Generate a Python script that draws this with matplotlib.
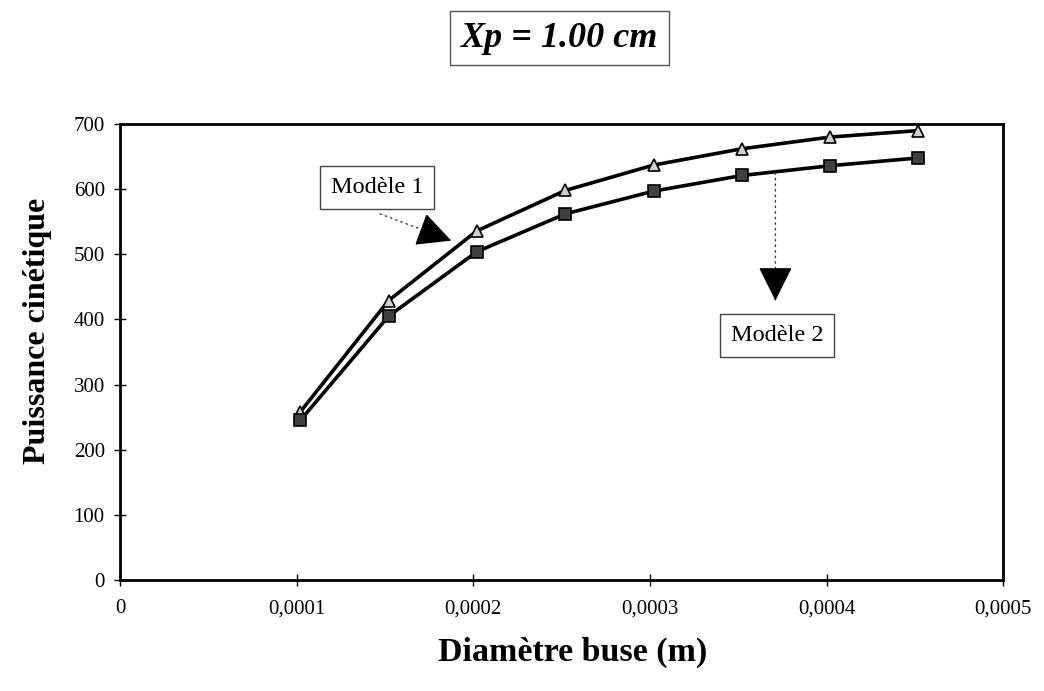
import matplotlib
matplotlib.use("Agg")
import matplotlib.pyplot as plt
from matplotlib.ticker import FuncFormatter

# Nozzle diameter (m) and kinetic power for both models
diametre = [0.000102, 0.000152, 0.000202, 0.000252, 0.000302, 0.000352, 0.000402, 0.000452]
modele_1 = [258, 429, 536, 598, 637, 662, 680, 690]
modele_2 = [245, 405, 504, 562, 597, 621, 636, 648]

x_ticks = [0, 0.0001, 0.0002, 0.0003, 0.0004, 0.0005]
y_ticks = [0, 100, 200, 300, 400, 500, 600, 700]

plt.rcParams['font.family'] = ['Liberation Serif', 'DejaVu Serif']

fig = plt.figure(figsize=(10.44, 6.91), dpi=100)
ax = fig.add_axes([0.115, 0.1606, 0.846, 0.6599])

ax.plot(diametre, modele_1, color='black', lw=2.6, marker='^', ms=9,
        mfc='#d0d0d0', mec='black', mew=1.2, zorder=3)
ax.plot(diametre, modele_2, color='black', lw=2.6, marker='s', ms=9,
        mfc='#404040', mec='black', mew=1.2, zorder=3)

ax.set_xlim(0, 0.0005)
ax.set_ylim(0, 700)
ax.set_xticks(x_ticks)
ax.set_yticks(y_ticks)
ax.xaxis.set_major_formatter(FuncFormatter(
    lambda v, p: '0' if v == 0 else f'{v:.4f}'.replace('.', ',')))
ax.tick_params(direction='inout', length=8, width=1, labelsize=15, pad=10)
ax.tick_params(axis='y', pad=7)

for s in ax.spines.values():
    s.set_linewidth(2)

ax.set_xlabel('Diamètre buse (m)', fontsize=24.5, fontweight='bold', va='center')
ax.set_ylabel('Puissance cinétique', fontsize=23, fontweight='bold', va='center')
ax.xaxis.set_label_coords(0.512, -0.158)
ax.yaxis.set_label_coords(-0.093, 0.546)

fig.text(0.536, 0.945, 'Xp = 1.00 cm', fontsize=26, fontweight='bold',
         fontstyle='italic', ha='center', va='center',
         bbox=dict(boxstyle='square,pad=0.3', fc='white', ec='#555555', lw=1))

box = dict(boxstyle='square,pad=0.45', fc='white', ec='#444444', lw=1)
shaft = dict(arrowstyle='-', linestyle=(0, (1, 3)), lw=1, color='#333333',
             shrinkA=0, shrinkB=0)
tip = dict(arrowstyle='-|>,head_length=1.4,head_width=0.7', lw=1, color='black',
           mutation_scale=15.5, shrinkA=0, shrinkB=0)


def callout(start, end, near):
    """Dotted leader from start to end, finished by a solid arrowhead."""
    ax.annotate('', xy=end, xytext=start, arrowprops=shaft)
    ax.annotate('', xy=end, xytext=near, arrowprops=tip)


# first model
callout((0.0001472, 562), (0.0001875, 521), (0.000186, 522.5))
ax.text(0.0001455, 603, 'Modèle 1', fontsize=17.5, ha='center', va='center', bbox=box)

# second model
callout((0.000371, 625), (0.000371, 429), (0.000371, 431))
ax.text(0.000372, 376, 'Modèle 2', fontsize=17.5, ha='center', va='center', bbox=box)

fig.savefig('out.png', dpi=100, facecolor='white')
